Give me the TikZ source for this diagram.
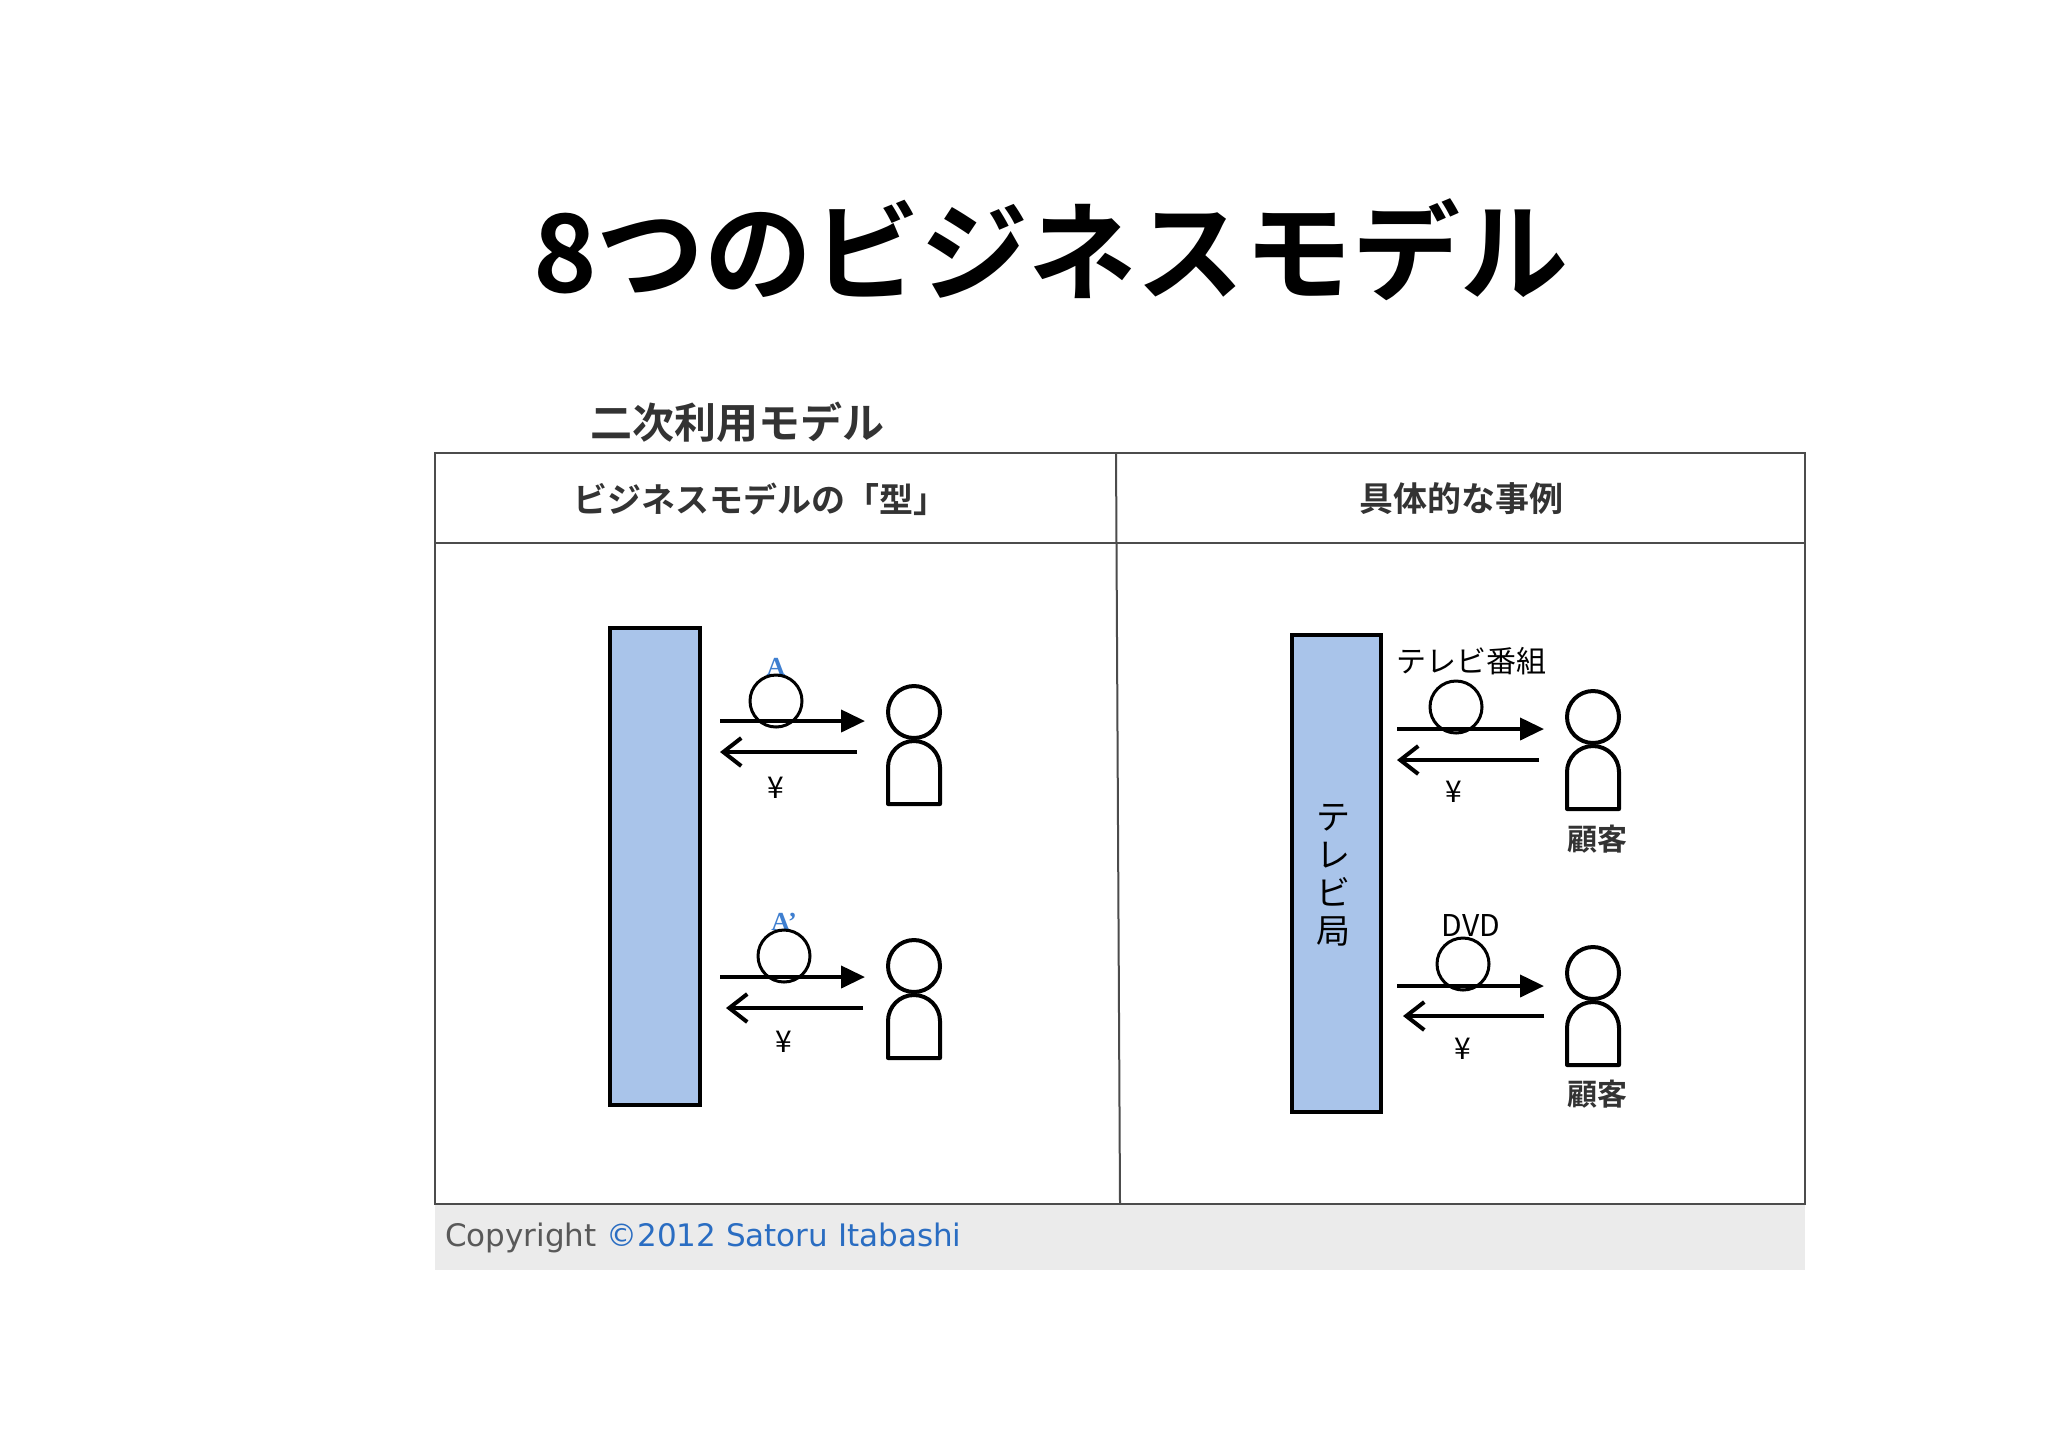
\documentclass[tikz,border=0pt]{standalone}
\usepackage{fontspec}
\setmainfont{DejaVu Sans}
\newfontfamily\jp{Noto Sans CJK JP}
\newfontfamily\jpb{Noto Sans CJK JP Bold}
\newfontfamily\serifA{Liberation Serif}
\usetikzlibrary{arrows.meta}
\definecolor{boxblue}{HTML}{A9C4EA}
\definecolor{lblblue}{HTML}{3F7FD0}
\definecolor{cpblue}{HTML}{2A6DC2}
\begin{document}
\begin{tikzpicture}[x=0.5pt,y=-0.5pt,
  thick line/.style={line width=2pt},
  outarrow/.style={line width=2pt,-{Triangle[length=12pt,width=11pt]}},
  inarrow/.style={line width=2pt,-{Straight Barb[length=9pt,width=14pt,line width=2pt]}},
  lbl/.style={font=\jp\fontsize{15}{15}\selectfont},
  person/.pic={\draw[line width=2pt] (0,0) circle (26);
    \draw[line width=2pt,line join=round] (-26,92) -- (-26,55) arc[start angle=180,end angle=360,radius=26] -- (26,92) -- cycle;}
]
\useasboundingbox (0,0) rectangle (2048,1447);
\fill[white] (0,0) rectangle (2048,1447);
\node[font=\jpb\fontsize{54}{54}\selectfont] (title) at (1051,250) {8つのビジネスモデル};
\node[font=\jpb\fontsize{21}{21}\selectfont,text=black!80,anchor=west] (sub) at (583,422) {二次利用モデル};
% table
\fill[black!8] (435,1204) rectangle (1805,1270);
\draw[line width=1pt,black!70] (435,453) rectangle (1805,1204);
\draw[line width=1pt,black!70] (435,543) -- (1805,543);
\draw[line width=1pt,black!70] (1116,453) -- (1120,1204);
\node[font=\jpb\fontsize{17}{17}\selectfont,text=black!80] (h1) at (760,499) {ビジネスモデルの「型」};
\node[font=\jpb\fontsize{17}{17}\selectfont,text=black!80] (h2) at (1461,499) {具体的な事例};
\node[anchor=west,font=\fontsize{15.5}{15.5}\selectfont] (cp) at (438,1238) {\textcolor{black!65}{Copyright} \textcolor{cpblue}{©2012 Satoru Itabashi}};
% left panel
\draw[line width=2pt,fill=boxblue] (610,628) rectangle (700,1105);
\node[font=\serifA\bfseries\fontsize{13}{13}\selectfont,text=lblblue] (la) at (776,667) {A};
\node[line width=1.5pt,draw,circle,minimum size=26pt,inner sep=0] (c1) at (776,701) {};
\coordinate (a1s) at (720,721); \coordinate (a1e) at (865,721);
\coordinate (b1s) at (857,752); \coordinate (b1e) at (720,752);
\draw[outarrow] (a1s) -- (a1e);
\draw[inarrow] (b1s) -- (b1e);
\node[lbl] (y1) at (776,788) {¥};
\pic at (914,712) {person};
\node[font=\serifA\bfseries\fontsize{13}{13}\selectfont,text=lblblue] (la2) at (784,922) {A’};
\node[line width=1.5pt,draw,circle,minimum size=26pt,inner sep=0] (c2) at (784,956) {};
\coordinate (a2s) at (720,977); \coordinate (a2e) at (865,977);
\coordinate (b2s) at (863,1008); \coordinate (b2e) at (726,1008);
\draw[outarrow] (a2s) -- (a2e);
\draw[inarrow] (b2s) -- (b2e);
\node[lbl] (y2) at (784,1042) {¥};
\pic at (914,966) {person};
% right panel
\draw[line width=2pt,fill=boxblue] (1292,635) rectangle (1381,1112);
\node[font=\jp\fontsize{17}{19}\selectfont,align=center] (tv) at (1333,875) {テ\\レ\\ビ\\局};
\node[lbl] (r1) at (1471,661) {テレビ番組};
\node[line width=1.5pt,draw,circle,minimum size=26pt,inner sep=0] (c3) at (1456,707) {};
\coordinate (a3s) at (1397,729); \coordinate (a3e) at (1544,729);
\coordinate (b3s) at (1539,760); \coordinate (b3e) at (1397,760);
\draw[outarrow] (a3s) -- (a3e);
\draw[inarrow] (b3s) -- (b3e);
\node[lbl] (y3) at (1454,792) {¥};
\pic at (1593,717) {person};
\node[font=\jpb\fontsize{15}{15}\selectfont,text=black!80] (k1) at (1597,839) {顧客};
\node[lbl] (r2) at (1471,925) {DVD};
\node[line width=1.5pt,draw,circle,minimum size=26pt,inner sep=0] (c4) at (1463,964) {};
\coordinate (a4s) at (1397,986); \coordinate (a4e) at (1544,986);
\coordinate (b4s) at (1544,1016); \coordinate (b4e) at (1403,1016);
\draw[outarrow] (a4s) -- (a4e);
\draw[inarrow] (b4s) -- (b4e);
\node[lbl] (y4) at (1463,1049) {¥};
\pic at (1593,973) {person};
\node[font=\jpb\fontsize{15}{15}\selectfont,text=black!80] (k2) at (1597,1094) {顧客};
\end{tikzpicture}
\end{document}
